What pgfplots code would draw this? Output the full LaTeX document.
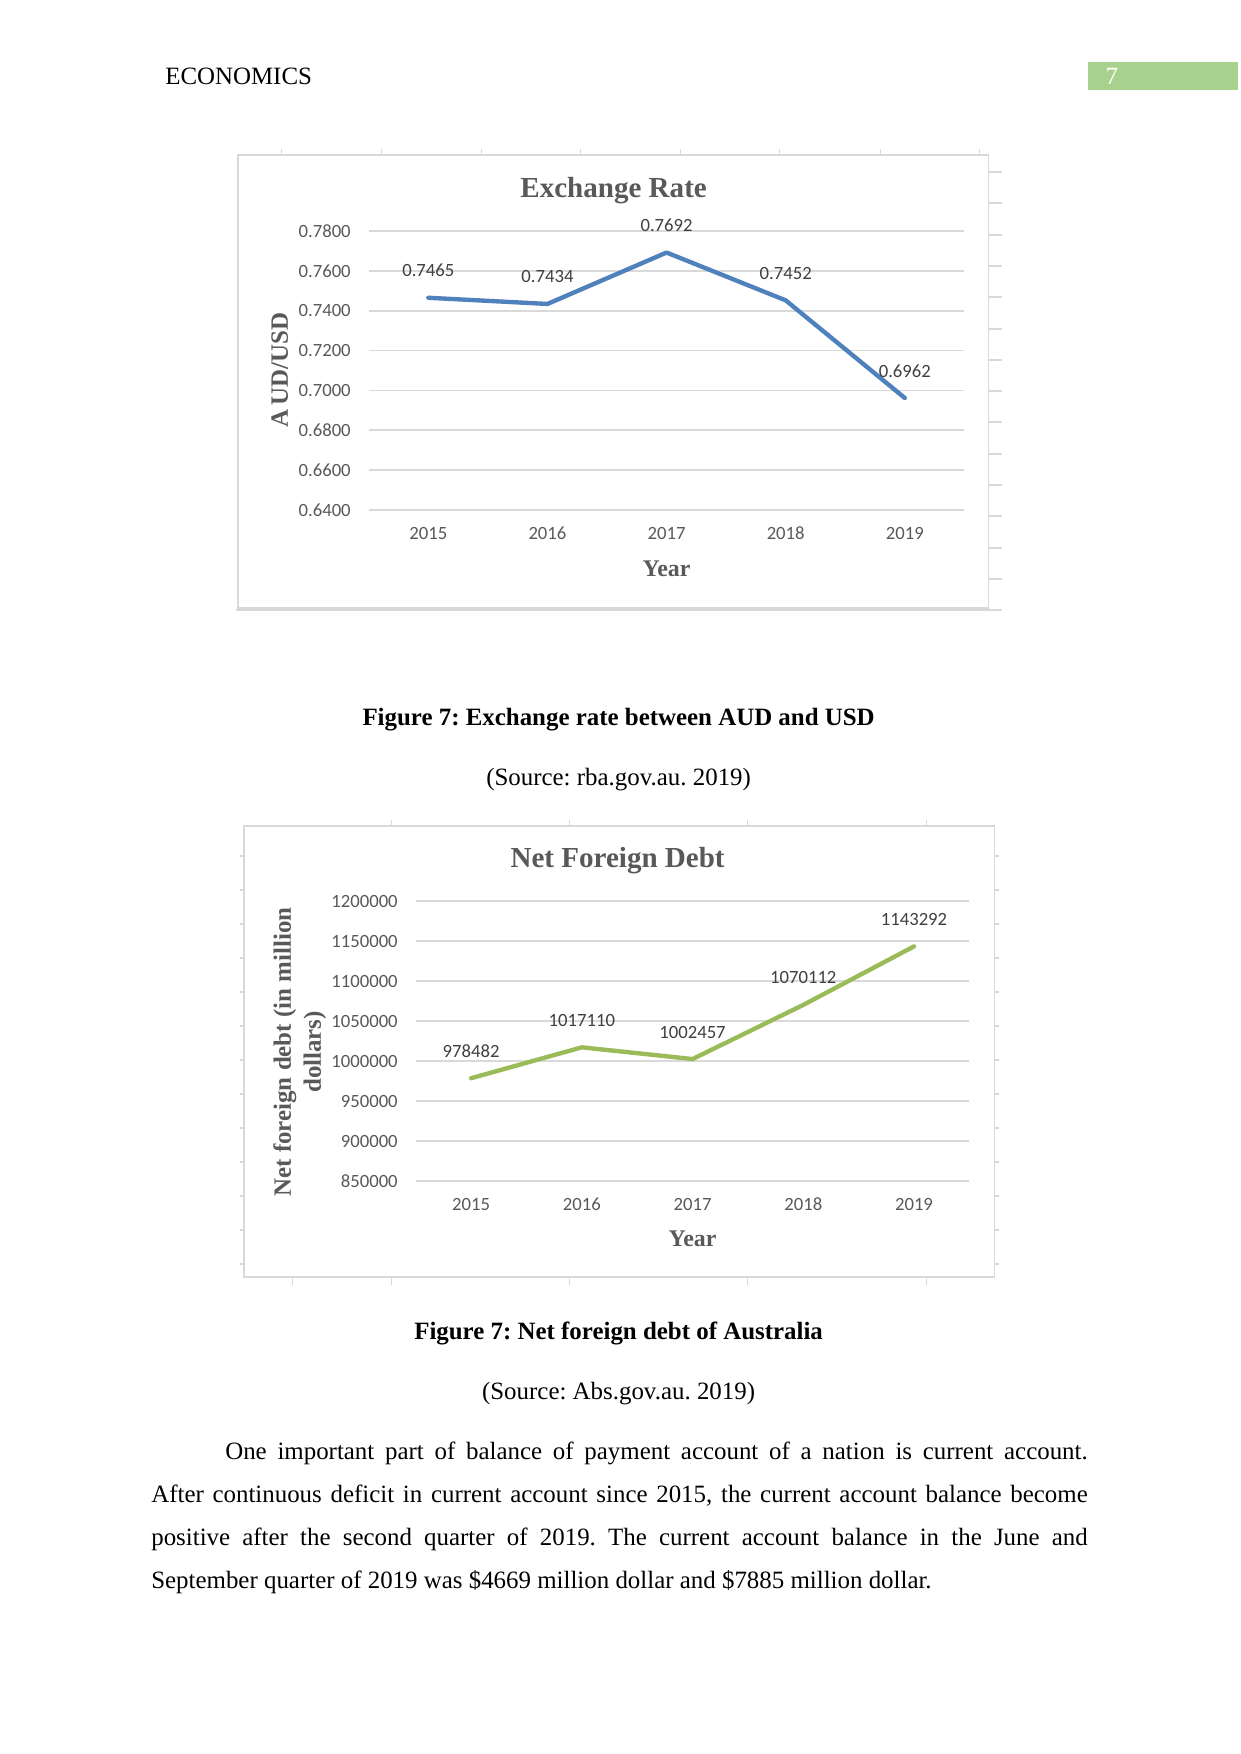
\documentclass[border=0pt]{standalone}
\usepackage{fontspec}
\setmainfont{Liberation Serif}
\newfontfamily\calib{Carlito}
\usepackage{pgfplots}
\pgfplotsset{compat=1.18}
\definecolor{txtgray}{HTML}{595959}
\definecolor{gridgray}{HTML}{D9D9D9}
\definecolor{exblue}{HTML}{4F81BD}
\definecolor{exgreen}{HTML}{9BBB59}
\definecolor{hdrgreen}{HTML}{A9D18E}
\def\px{0.169218mm}
\def\py{0.169327mm}
\frenchspacing
\pgfplotsset{excel/.style={
  scale only axis, axis line style={draw=none}, major tick length=0pt,
  xmin=-0.5, xmax=4.5, xtick={0,1,2,3,4}, xticklabels={2015,2016,2017,2018,2019},
  ymajorgrids, grid style={gridgray, line width=0.8pt},
  tick label style={font=\fontsize{9}{10}\calib, text=txtgray},
  /pgf/number format/assume math mode=true,
  xticklabel style={inner sep=0pt, anchor=north, yshift=-8pt},
  yticklabel style={inner sep=0pt, anchor=east, xshift=-8.5pt},
  nodes near coords, point meta=explicit symbolic,
  every node near coord/.append style={font=\fontsize{9}{10}\calib, text=black!75, anchor=south, inner sep=0pt, yshift=9pt},
  clip=false, scaled y ticks=false,
}}
\begin{document}
\begin{tikzpicture}
\path[fill=white, use as bounding box] (0,0) rectangle ({1241*\px},{-1754*\py});
% header
\node[anchor=base west, inner sep=0pt, font=\fontsize{12}{14}\selectfont] at ({165*\px},{-84*\py}) {ECONOMICS};
\fill[hdrgreen] ({1089*\px},{-62*\py}) rectangle ({1239*\px},{-90*\py});
\node[anchor=base west, inner sep=0pt, text=white, font=\fontsize{12}{14}\selectfont] at ({1106*\px},{-84*\py}) {7};

% ---------- chart 1 frame ----------
\draw[gridgray, line width=0.8pt] ({238*\px},{-155*\py}) rectangle ({989*\px},{-608*\py});
\draw[gridgray, line width=0.6pt] ({236*\px},{-610*\py}) -- ({1003*\px},{-610*\py});
\foreach \t in {282,382,482,581,681,780,881,980}
  \draw[gridgray, line width=0.6pt] ({\t*\px},{-149*\py}) -- ({\t*\px},{-155*\py});
\foreach \t in {172,203,235,266,297,329,360,391,422,454,485,516,548,579}
  \draw[gridgray, line width=0.6pt] ({990*\px},{-\t*\py}) -- ({1003*\px},{-\t*\py});

\begin{axis}[excel, at={({369*\px},{-510*\py})}, anchor=south west,
  width=100.854mm, height=47.242mm,
  ymin=0.64, ymax=0.78, ytick={0.64,0.66,0.68,0.70,0.72,0.74,0.76,0.78},
  yticklabel style={/pgf/number format/.cd, fixed, fixed zerofill, precision=4}]
\addplot[exblue, line width=2.1pt, line join=round, line cap=round] table[meta=label] {
x y label
0 0.7465 0.7465
1 0.7434 0.7434
2 0.7692 0.7692
3 0.7452 0.7452
4 0.6962 0.6962
};
\end{axis}
\node[font=\fontsize{14}{16}\selectfont\bfseries, text=txtgray] at ({614*\px},{-191*\py}) {Exchange Rate};
\node[font=\fontsize{11.5}{13}\selectfont\bfseries, text=txtgray] at ({667*\px},{-569*\py}) {Year};
\node[rotate=90, font=\fontsize{12}{14}\selectfont\bfseries, text=txtgray] at ({280*\px},{-370*\py}) {A\,UD/USD};

\node[anchor=base, inner sep=0pt, font=\fontsize{12}{14}\selectfont\bfseries] at ({619*\px},{-725*\py}) {Figure 7: Exchange rate between AUD and USD};
\node[anchor=base, inner sep=0pt, font=\fontsize{12}{14}\selectfont] at ({619*\px},{-785*\py}) {(Source: rba.gov.au. 2019)};

% ---------- chart 2 frame ----------
\draw[gridgray, line width=0.8pt] ({244*\px},{-826*\py}) rectangle ({995*\px},{-1277*\py});
\foreach \t in {392,570,748,927}
  \draw[gridgray, line width=0.6pt] ({\t*\px},{-820*\py}) -- ({\t*\px},{-826*\py});
\foreach \t in {293,392,570,748,927}
  \draw[gridgray, line width=0.6pt] ({\t*\px},{-1277*\py}) -- ({\t*\px},{-1285*\py});
\foreach \t in {856,890,924,958,992,1026,1060,1094,1128,1162,1196,1230,1264}
  {\draw[gridgray, line width=0.6pt] ({995*\px},{-\t*\py}) -- ({1000*\px},{-\t*\py});
   \draw[gridgray, line width=0.6pt] ({240*\px},{-\t*\py}) -- ({244*\px},{-\t*\py});}

\begin{axis}[excel, at={({416*\px},{-1181*\py})}, anchor=south west,
  width=93.747mm, height=47.412mm,
  ymin=850000, ymax=1200000, ytick={850000,900000,950000,1000000,1050000,1100000,1150000,1200000},
  yticklabel style={/pgf/number format/.cd, fixed, precision=0, 1000 sep={}}]
\addplot[exgreen, line width=2.1pt, line join=round, line cap=round] table[meta=label] {
x y label
0 978482 978482
1 1017110 1017110
2 1002457 1002457
3 1070112 1070112
4 1143292 1143292
};
\end{axis}
\node[font=\fontsize{14}{16}\selectfont\bfseries, text=txtgray] at ({618*\px},{-861*\py}) {Net Foreign Debt};
\node[font=\fontsize{11.5}{13}\selectfont\bfseries, text=txtgray] at ({693*\px},{-1239*\py}) {Year};
\node[rotate=90, align=center, font=\fontsize{12}{14.4}\selectfont\bfseries, text=txtgray] at ({300*\px},{-1052*\py}) {Net foreign debt (in million\\dollars)};

\node[anchor=base, inner sep=0pt, font=\fontsize{12}{14}\selectfont\bfseries] at ({619*\px},{-1339*\py}) {Figure 7: Net foreign debt of Australia};
\node[anchor=base, inner sep=0pt, font=\fontsize{12}{14}\selectfont] at ({619*\px},{-1399*\py}) {(Source: Abs.gov.au. 2019)};

% ---------- paragraph ----------
\node[anchor=base west, inner sep=0pt, font=\fontsize{12}{14}\selectfont] at ({225*\px},{-1459*\py}) {\makebox[146.04mm][s]{One important part of balance of payment account of a nation is current account.}};
\node[anchor=base west, inner sep=0pt, font=\fontsize{12}{14}\selectfont] at ({151*\px},{-1502*\py}) {\makebox[158.56mm][s]{After continuous deficit in current account since 2015, the current account balance become}};
\node[anchor=base west, inner sep=0pt, font=\fontsize{12}{14}\selectfont] at ({151*\px},{-1545*\py}) {\makebox[158.56mm][s]{positive after the second quarter of 2019. The current account balance in the June and}};
\node[anchor=base west, inner sep=0pt, font=\fontsize{12}{14}\selectfont] at ({151*\px},{-1588*\py}) {September quarter of 2019 was \$4669 million dollar and \$7885 million dollar.};
\end{tikzpicture}
\end{document}
